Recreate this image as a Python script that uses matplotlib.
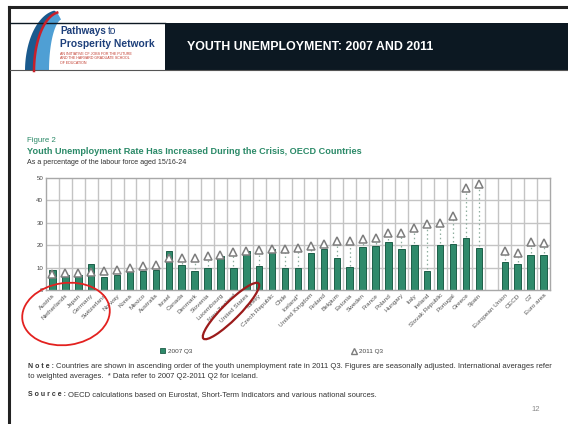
import numpy as np
import matplotlib
matplotlib.use("Agg")
import matplotlib.pyplot as plt
from matplotlib.patches import Ellipse, Polygon, Rectangle

plt.rcParams['font.family'] = ['Liberation Sans', 'DejaVu Sans']

# ---- data -------------------------------------------------------------
countries = ["Austria", "Netherlands", "Japan", "Germany", "Switzerland", "Norway",
             "Korea", "Mexico", "Australia", "Israel", "Canada", "Denmark",
             "Slovenia", "Luxembourg", "New Zealand", "United States", "Turkey",
             "Czech Republic", "Chile", "Iceland*", "United Kingdom", "Finland",
             "Belgium", "Estonia", "Sweden", "France", "Poland", "Hungary",
             "Italy", "Ireland", "Slovak Republic", "Portugal", "Greece", "Spain"]
aggregates = ["European Union", "OECD", "G7", "Euro area"]

rate_2007_q3 = [8.8, 6.6, 6.9, 11.7, 5.9, 6.9, 8.6, 8.4, 8.8, 17.6, 11.0, 8.4,
                10.0, 15.4, 10.0, 17.3, 10.5, 18.5, 10.0, 10.0, 16.6, 18.5,
                14.5, 10.1, 19.3, 19.7, 21.5, 18.2, 20.3, 8.6, 20.0, 20.7,
                23.0, 18.8,
                12.6, 11.8, 15.6, 15.6]
rate_2011_q3 = [7.3, 7.4, 7.6, 8.0, 8.5, 9.0, 9.9, 10.9, 11.0, 14.1, 14.2, 14.4,
                15.3, 15.7, 17.0, 17.4, 17.7, 18.2, 18.4, 18.6, 19.7, 20.6,
                21.7, 21.8, 22.6, 23.2, 25.4, 25.6, 27.9, 29.5, 29.7, 33.2,
                45.5, 47.5,
                17.3, 16.4, 21.5, 20.9]

y_ticks = [0, 10, 20, 30, 40, 50]

GREEN = "#2f8a6b"
GREEN_EDGE = "#1d5e48"
TITLE_GREEN = "#2b8a68"
TEXT = "#333333"

# ---- figure -----------------------------------------------------------
W, H = 568, 424
fig = plt.figure(figsize=(W / 100, H / 100), dpi=100)
fig.patch.set_facecolor("white")

# chart axes
ax = fig.add_axes([46 / W, 1 - 290 / H, 504 / W, 112 / H])
labels = countries + [""] + aggregates
n_slots = len(labels)
pos = np.array([i + 0.5 for i in range(len(countries))] +
               [len(countries) + 1 + i + 0.5 for i in range(len(aggregates))])
v07 = np.array(rate_2007_q3)
v11 = np.array(rate_2011_q3)

ax.set_xlim(0, n_slots)
ax.set_ylim(0, 50)
for xb in range(1, n_slots):
    ax.axvline(xb, color="#c4c4c4", lw=1.0, zorder=0)
for yv in y_ticks[1:-1]:
    ax.axhline(yv, color="#c4c4c4", lw=1.0, zorder=0)

ax.bar(pos, v07, width=0.5, color=GREEN, edgecolor=GREEN_EDGE, linewidth=0.7,
       zorder=2)
for x, a, b in zip(pos, v07, v11):
    if b - a > 2.5:
        ax.plot([x, x], [a + 0.8, b - 1.6], color="#8fae9f", lw=0.9,
                linestyle=(0, (1.2, 2.2)), zorder=2)
ax.plot(pos, v11, linestyle="none", marker="^", markersize=6.2,
        markerfacecolor="white", markeredgecolor="#7d7d7d", markeredgewidth=1.1,
        zorder=3)

ax.set_yticks(y_ticks)
ax.set_yticklabels([str(t) for t in y_ticks], fontsize=4.4, color="#444444")
ax.set_xticks(pos)
ax.set_xticklabels(countries + aggregates, rotation=45, ha="right",
                   rotation_mode="anchor", fontsize=4.6, color="#555555")
ax.tick_params(axis="both", length=0, pad=2)
for s in ax.spines.values():
    s.set_color("#a8a8a8")
    s.set_linewidth(1.0)

# ---- slide overlay ----------------------------------------------------
ov = fig.add_axes([0, 0, 1, 1], zorder=5)
ov.set_xlim(0, W)
ov.set_ylim(H, 0)
ov.axis("off")
ov.patch.set_alpha(0)
renderer = fig.canvas.get_renderer()


def right_edge(txt):
    return txt.get_window_extent(renderer=renderer).x1


# slide frame
ov.plot([9, 9], [7, H], color="#222222", lw=2.2)
ov.plot([9, W], [7, 7], color="#222222", lw=2.2)

# header band
ov.add_patch(Rectangle((165, 23), W - 165, 47, facecolor="#0c1822",
                       edgecolor="none"))
ov.plot([10, 165], [23, 23], color="#0c1822", lw=1.0)
ov.plot([10, W], [70, 70], color="#555555", lw=0.8)
ov.text(187, 47, "YOUTH UNEMPLOYMENT: 2007 AND 2011", color="white",
        fontsize=8.9, fontweight="bold", va="center", ha="left")

# logo mark: three nested crescents
t = np.linspace(np.radians(98), np.radians(180), 50)


def arc(cx, rx, ry, ang):
    return np.column_stack([cx + rx * np.cos(ang), 71 - ry * np.sin(ang)])


outer = arc(59, 34, 61, t)
red_edge = arc(61, 27, 59, t)
inner = arc(63, 14, 52, t)
ov.add_patch(Polygon(np.vstack([outer, red_edge[::-1]]), closed=True,
                     facecolor="#1a5a8e", edgecolor="none"))
ov.add_patch(Polygon(np.vstack([red_edge, inner[::-1]]), closed=True,
                     facecolor="#4f9fd4", edgecolor="none"))
ov.plot(red_edge[:, 0], red_edge[:, 1], color="#c8202a", lw=1.8)

tp = ov.text(60, 34, "Pathways", color="#1d3f7a", fontsize=7.2,
             fontweight="bold", va="baseline")
ov.text(right_edge(tp) + 2, 34, "to", color="#1d3f7a", fontsize=7.2,
        va="baseline")
ov.text(60, 47, "Prosperity Network", color="#1d3f7a", fontsize=7.4,
        fontweight="bold", va="baseline")
for k, line in enumerate(["AN INITIATIVE OF JOBS FOR THE FUTURE",
                          "AND THE HARVARD GRADUATE SCHOOL",
                          "OF EDUCATION"]):
    ov.text(60, 55 + 4.3 * k, line, color="#c0392b", fontsize=2.6,
            va="baseline")

# figure titles
ov.text(27, 142, "Figure 2", color=TITLE_GREEN, fontsize=5.7, va="baseline")
ov.text(27, 154, "Youth Unemployment Rate Has Increased During the Crisis, "
        "OECD Countries", color=TITLE_GREEN, fontsize=6.6, fontweight="bold",
        va="baseline")
ov.text(27, 164, "As a percentage of the labour force aged 15/16-24",
        color=TEXT, fontsize=5.1, va="baseline")

# legend
ov.add_patch(Rectangle((160, 348), 5, 5, facecolor=GREEN,
                       edgecolor=GREEN_EDGE, lw=0.6))
ov.text(168, 353, "2007 Q3", fontsize=4.6, color="#444444", va="baseline")
ov.plot([354], [350.5], marker="^", markersize=5, markerfacecolor="white",
        markeredgecolor="#7d7d7d", markeredgewidth=1.0)
ov.text(359, 353, "2011 Q3", fontsize=4.6, color="#444444", va="baseline")

# notes
tn = ov.text(28, 368, "N o t e :", fontsize=5.0, fontweight="bold", color=TEXT,
             va="baseline")
ov.text(right_edge(tn) + 2, 368, "Countries are shown in ascending order of "
        "the youth unemployment rate in 2011 Q3. Figures are seasonally "
        "adjusted. International averages refer", fontsize=5.5, color=TEXT,
        va="baseline")
ov.text(28, 378, "to weighted averages.  * Data refer to 2007 Q2-2011 Q2 for "
        "Iceland.", fontsize=5.5, color=TEXT, va="baseline")
ts = ov.text(28, 396, "S o u r c e :", fontsize=5.0, fontweight="bold",
             color=TEXT, va="baseline")
ov.text(right_edge(ts) + 2, 396, "OECD calculations based on Eurostat, "
        "Short-Term Indicators and various national sources.", fontsize=5.5,
        color=TEXT, va="baseline")
ov.text(531, 411, "12", fontsize=5.5, color="#888888", va="baseline")

# highlight rings
ov.add_patch(Ellipse((66, 314), 88, 62, angle=-8, facecolor="none",
                     edgecolor="#e3211f", lw=1.3))
ov.add_patch(Ellipse((231, 311), 78, 17, angle=-45, facecolor="none",
                     edgecolor="#9b1b1b", lw=1.6))

fig.savefig("out.png", dpi=100, facecolor="white")
